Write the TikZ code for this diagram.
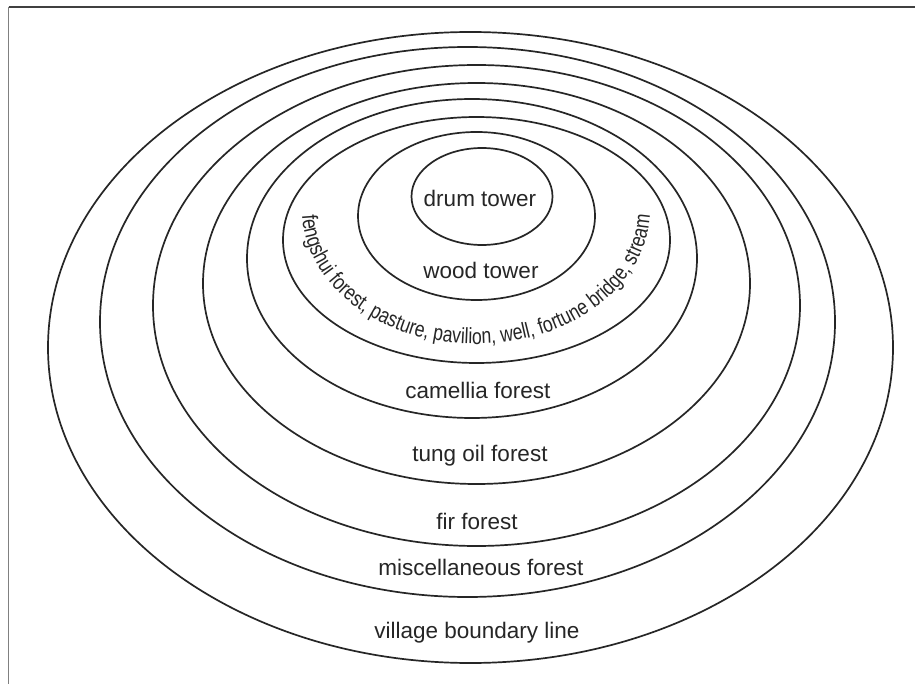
\documentclass[tikz,border=0pt]{standalone}
\usepackage{fontspec}
\setmainfont{Liberation Sans}
\newfontfamily\curvefont[FakeStretch=0.8]{Liberation Sans}
\usetikzlibrary{decorations.text}
\begin{document}
\begin{tikzpicture}[x=1pt,y=1pt,
  ring/.style={draw=black!85, line width=1.7pt},
  lbl/.style={font=\fontsize{22.5}{27}\selectfont, text=black!85, inner sep=0pt},
  frametop/.style={draw=black!75, line width=1.6pt},
  frameleft/.style={draw=black!50, line width=1.6pt}]
\useasboundingbox (0,0) rectangle (915,-684);
\fill[white] (0,0) rectangle (915,-684);
% frame (top and left only)
\draw[frametop] (8.5,-7) -- (915,-7);
\draw[frameleft] (8.5,-7) -- (8.5,-684);
% rings
\draw[ring] (470.5,-347.5) ellipse [x radius=422.5, y radius=315.5];
\draw[ring] (467.5,-322) ellipse [x radius=367.5, y radius=275];
\draw[ring] (476.5,-305.5) ellipse [x radius=323.5, y radius=240.5];
\draw[ring] (476.5,-283.5) ellipse [x radius=273.5, y radius=200.5];
\draw[ring] (472,-258.5) ellipse [x radius=225, y radius=159.5];
\draw[ring] (476.5,-240) ellipse [x radius=193.5, y radius=123];
\draw[ring] (476.5,-216) ellipse [x radius=118.5, y radius=84];
\draw[ring] (482,-196.5) ellipse [x radius=70.5, y radius=48.5];
% labels
\node[lbl] (drum) at (480,-198) {drum tower};
\node[lbl] (wood) at (481,-270) {wood tower};
\node[lbl] (camellia) at (478,-390) {camellia forest};
\node[lbl] (tung) at (480,-456) {tung oil forest};
\node[lbl] (fir) at (477,-521) {fir forest};
\node[lbl] (misc) at (481,-567) {miscellaneous forest};
\node[lbl] (village) at (477,-633) {village boundary line};
% curved label
\path[decorate, decoration={text along path, text align=center,
  text={|\curvefont\fontsize{22}{26}\selectfont\color{black!85}|fengshui forest, pasture, pavilion, well, fortune bridge, stream}}]
  (302,-210) arc[start angle=180, end angle=360, x radius=174, y radius=134];
\end{tikzpicture}
\end{document}
